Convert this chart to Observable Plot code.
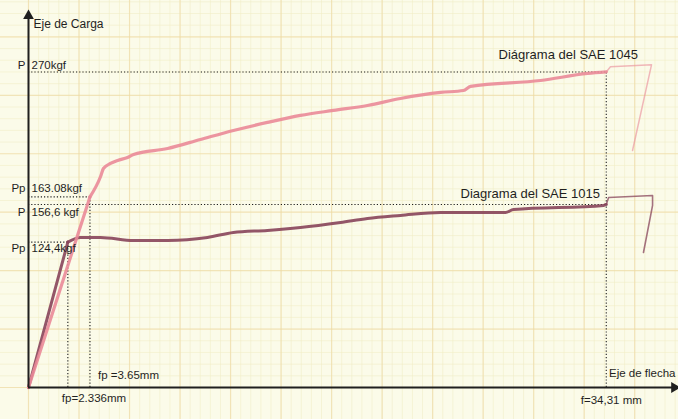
<!DOCTYPE html>
<html>
<head>
<meta charset="utf-8">
<script src="https://cdn.jsdelivr.net/npm/d3@7"></script>
<script src="https://cdn.jsdelivr.net/npm/@observablehq/plot@0.6"></script>
<style>
  html, body { margin: 0; padding: 0; background: #fbfbe9; overflow: hidden; }
</style>
</head>
<body>
<div id="chart"></div>
<script>
// Ensayo de flexión: flecha (mm) vs carga (kgf)

// SAE 1045 — tramo principal hasta f = 34,31 mm
const sae1045Flecha = [0, 3.65, 4.28, 4.45, 4.87, 5.29, 5.88, 6.24, 8.26, 10.21, 12.17, 14.19, 16.15, 18.11, 20.13, 22.09, 24.47, 25.83, 26.25, 30.41, 33.2, 34.31];
const sae1045Carga  = [0, 163.08, 180.5, 187.4, 191.7, 194.3, 196.8, 199.4, 204.5, 212.2, 219.9, 226.8, 232.8, 237.1, 241.3, 247.3, 252.5, 254.1, 257.6, 262.7, 268.7, 270];
// SAE 1045 — tramo final y descarga
const sae1045FinFlecha = [34.31, 34.56, 37.0, 35.87];
const sae1045FinCarga  = [270, 274.4, 276.2, 202.8];

// SAE 1015 — tramo principal hasta f = 34,31 mm
const sae1015Flecha = [0, 2.336, 3.09, 4.28, 6.24, 8.26, 10.63, 12.17, 14.19, 16.15, 18.53, 20.13, 22.09, 24.47, 28.33, 28.8, 34.15, 34.31];
const sae1015Carga  = [0, 124.4, 128.4, 128.4, 125.8, 125.8, 128.4, 132.6, 134.4, 136.9, 141.2, 144.6, 147.2, 149.8, 149.8, 152.3, 155.8, 156.6];
// SAE 1015 — tramo final y descarga
const sae1015FinFlecha = [34.31, 34.45, 37.06, 37.06, 36.52];
const sae1015FinCarga  = [156.6, 162.6, 164.3, 155.8, 115.5];

// Cargas señaladas sobre el eje vertical
const cargas        = [270, 163.08, 156.6, 124.4];
const cargaPrefijos = ["P", "Pp", "P", "Pp"];
const cargaTextos   = ["270kgf", "163.08kgf", "156,6 kgf", "124,4kgf"];
const cargaHasta    = [34.31, 3.65, 34.31, 2.336];

// Flechas señaladas sobre el eje horizontal
const flechas      = [2.336, 3.65, 34.31];
const flechaTextos = ["fp=2.336mm", "fp =3.65mm", "f=34,31 mm"];
const flechaHasta  = [124.4, 163.08, 270];

const serie = (xs, ys) => xs.map((x, i) => ({x, y: ys[i]}));
const s1045 = serie(sae1045Flecha, sae1045Carga);
const s1045Fin = serie(sae1045FinFlecha, sae1045FinCarga);
const s1015 = serie(sae1015Flecha, sae1015Carga);
const s1015Fin = serie(sae1015FinFlecha, sae1015FinCarga);

const guiasH = cargas.map((y, i) => ({y, x2: cargaHasta[i]}));
const guiasV = flechas.map((x, i) => ({x, y2: flechaHasta[i]}));

const XMAX = 38.6, YMAX = 320;
const rosa = "#ea8a98";
const malva = "#87445a";
const tinta = "#1f1f1f";
const letra = "'Liberation Sans', Arial, sans-serif";

// papel milimetrado de fondo
const gridXmenor = d3.range(0, XMAX, 0.6);
const gridXmayor = d3.range(0, XMAX, 3);
const gridYmenor = d3.range(0, YMAX + 40, 10);
const gridYmayor = d3.range(0, YMAX + 40, 50);

const texto = (i, opts) => Plot.text([cargaTextos[i]], {
  x: 0, y: cargas[i], text: d => d, textAnchor: "start", dx: 3, fontSize: 11.5, fill: tinta, ...opts
});
const prefijo = (i, opts) => Plot.text([cargaPrefijos[i]], {
  x: 0, y: cargas[i], text: d => d, textAnchor: "end", dx: -3, fontSize: 11.5, fill: tinta, ...opts
});

// tramo elástico recto + tramo plástico suavizado
const curva = (datos, color, ancho) => [
  Plot.line(datos.slice(0, 2), {x: "x", y: "y", stroke: color, strokeWidth: ancho, strokeLinecap: "round", strokeOpacity: 0.9}),
  Plot.line(datos.slice(1), {x: "x", y: "y", curve: "monotone-x", stroke: color, strokeWidth: ancho, strokeLinejoin: "round", strokeLinecap: "round", strokeOpacity: 0.9})
];

const chart = Plot.plot({
  width: 678,
  height: 419,
  marginLeft: 28,
  marginRight: 0,
  marginTop: 13,
  marginBottom: 32,
  x: {domain: [0, XMAX], axis: null},
  y: {domain: [0, YMAX], axis: null},
  style: {background: "#fbfbe9", fontFamily: letra, overflow: "visible"},
  marks: [
    // cuadrícula
    Plot.ruleX(gridXmenor, {x: d => d, y1: -40, y2: YMAX + 20, stroke: "#f1ecc4", strokeWidth: 1, strokeOpacity: 0.55}),
    Plot.ruleY(gridYmenor, {y: d => d, x1: -3, x2: XMAX, stroke: "#f1ecc4", strokeWidth: 1, strokeOpacity: 0.55}),
    Plot.ruleX(gridXmayor, {x: d => d, y1: -40, y2: YMAX + 20, stroke: "#efd8a2", strokeWidth: 1.2, strokeOpacity: 0.6}),
    Plot.ruleY(gridYmayor, {y: d => d, x1: -3, x2: XMAX, stroke: "#efd8a2", strokeWidth: 1.2, strokeOpacity: 0.6}),

    // líneas de referencia punteadas
    Plot.ruleY(guiasH, {y: "y", x1: 0, x2: "x2", stroke: tinta, strokeWidth: 1.1, strokeDasharray: "1.2,2"}),
    Plot.ruleX(guiasV, {x: "x", y1: 0, y2: "y2", stroke: tinta, strokeWidth: 1.1, strokeDasharray: "1.2,2"}),

    // curvas
    ...curva(s1015, malva, 3),
    Plot.line(s1015Fin, {x: "x", y: "y", stroke: malva, strokeWidth: 1.6, strokeLinejoin: "round", strokeOpacity: 0.75}),
    ...curva(s1045, rosa, 3.2),
    Plot.line(s1045Fin, {x: "x", y: "y", stroke: rosa, strokeWidth: 1.5, strokeLinejoin: "round", strokeOpacity: 0.6}),

    // ejes
    Plot.ruleX([0], {x: d => d, y1: 0, y2: YMAX - 2, stroke: tinta, strokeWidth: 2}),
    Plot.ruleY([0], {y: d => d, x1: 0, x2: XMAX - 0.3, stroke: tinta, strokeWidth: 2}),
    Plot.dot([0], {x: 0, y: YMAX - 2, symbol: "triangle", r: 4, fill: tinta, stroke: null}),
    Plot.dot([0], {x: XMAX - 0.25, y: 0, symbol: "triangle", r: 4, fill: tinta, stroke: null, rotate: 90}),
    Plot.text(["Eje de Carga"], {x: 0, y: YMAX, text: d => d, textAnchor: "start", dx: 5, dy: 11, fontSize: 12, fill: tinta}),
    Plot.text(["Eje de flecha"], {x: XMAX, y: 0, text: d => d, textAnchor: "end", dx: -3, dy: -14, fontSize: 11.5, fill: tinta}),

    // rótulos de carga
    prefijo(0, {dy: -7}), texto(0, {dy: -7}),
    prefijo(1, {dy: -9}), texto(1, {dy: -9}),
    prefijo(2, {dy: 8}),  texto(2, {dy: 8}),
    prefijo(3, {dy: 6}),  texto(3, {dy: 6}),

    // rótulos de flecha
    Plot.text([flechaTextos[0]], {x: flechas[0], y: 0, text: d => d, textAnchor: "start", dx: -6, dy: 11, fontSize: 11.5, fill: tinta}),
    Plot.text([flechaTextos[1]], {x: flechas[1], y: 0, text: d => d, textAnchor: "start", dx: 8, dy: -12, fontSize: 11.5, fill: tinta}),
    Plot.text([flechaTextos[2]], {x: flechas[2], y: 0, text: d => d, textAnchor: "middle", dx: 5, dy: 13, fontSize: 11.5, fill: tinta}),

    // títulos de las curvas
    Plot.text(["Diágrama del SAE 1045"], {x: sae1045Flecha[sae1045Flecha.length - 1], y: sae1045Carga[sae1045Carga.length - 1], text: d => d, textAnchor: "middle", dx: -38, dy: -17, fontSize: 13, fill: tinta}),
    Plot.text(["Diagrama del SAE 1015"], {x: sae1015Flecha[sae1015Flecha.length - 1], y: sae1015Carga[sae1015Carga.length - 1], text: d => d, textAnchor: "middle", dx: -76, dy: -11, fontSize: 13, fill: tinta})
  ]
});

document.getElementById("chart").appendChild(chart);
</script>
</body>
</html>
